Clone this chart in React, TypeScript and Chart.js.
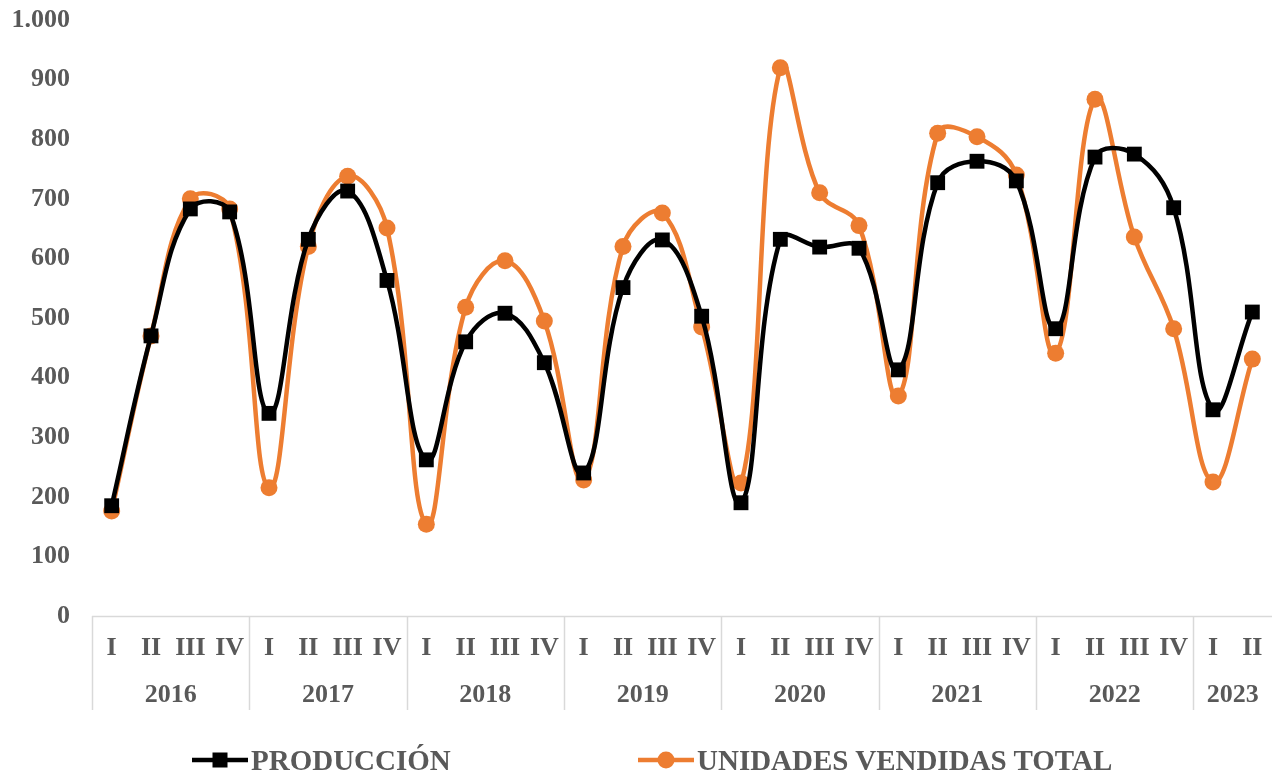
import React, { useEffect, useRef } from 'react';
import { Chart, registerables } from 'chart.js';

Chart.register(...registerables);

const quarterLabels = [
  'I', 'II', 'III', 'IV',
  'I', 'II', 'III', 'IV',
  'I', 'II', 'III', 'IV',
  'I', 'II', 'III', 'IV',
  'I', 'II', 'III', 'IV',
  'I', 'II', 'III', 'IV',
  'I', 'II', 'III', 'IV',
  'I', 'II',
];
const yearLabels = ['2016', '2017', '2018', '2019', '2020', '2021', '2022', '2023'];
const quartersPerYear = [4, 4, 4, 4, 4, 4, 4, 2];

const produccion = [
  185, 470, 683, 678,
  340, 632, 713, 563,
  262, 460, 508, 425,
  240, 551, 631, 503,
  190, 632, 619, 617,
  413, 727, 763, 730,
  482, 770, 775, 685,
  346, 510,
];
const unidadesVendidasTotal = [
  176, 470, 700, 683,
  215, 620, 738, 651,
  154, 518, 596, 495,
  228, 620, 676, 485,
  223, 920, 710, 655,
  369, 810, 804, 740,
  441, 867, 636, 482,
  225, 431,
];
const yTickLabels = ['0', '100', '200', '300', '400', '500', '600', '700', '800', '900', '1.000'];
const seriesNames = ['PRODUCCIÓN', 'UNIDADES VENDIDAS TOTAL'];

const BLACK = '#000000';
const ORANGE = '#ED7D31';
const TEXT = '#595959';
const AXIS = '#d9d9d9';
const FONT = '"Liberation Serif", "Times New Roman", serif';

const yearAxisPlugin = {
  id: 'yearAxis',
  afterDraw(chart: any) {
    const { ctx, chartArea, scales } = chart;
    const xs = scales.x;
    const bottom = chartArea.bottom;
    ctx.save();
    ctx.strokeStyle = AXIS;
    ctx.lineWidth = 1.5;
    ctx.beginPath();
    ctx.moveTo(xs.getPixelForValue(-0.5), bottom + 0.5);
    ctx.lineTo(chart.width, bottom + 0.5);
    ctx.stroke();
    ctx.font = `bold 26px ${FONT}`;
    ctx.fillStyle = TEXT;
    ctx.textAlign = 'center';
    ctx.textBaseline = 'middle';
    let start = 0;
    quartersPerYear.forEach((n, i) => {
      const x0 = xs.getPixelForValue(start - 0.5);
      const x1 = xs.getPixelForValue(start + n - 0.5);
      ctx.beginPath();
      ctx.moveTo(Math.round(x0) + 0.5, bottom);
      ctx.lineTo(Math.round(x0) + 0.5, bottom + 94);
      ctx.stroke();
      ctx.fillText(yearLabels[i], (x0 + x1) / 2, bottom + 79);
      start += n;
    });
    ctx.restore();
  },
};

function LegendItem({ name, color, marker, left, textLeft }: any) {
  return (
    <>
      <svg
        width={56}
        height={24}
        style={{ position: 'absolute', left, top: 748 }}
      >
        <line x1={0} y1={12} x2={56} y2={12} stroke={color} strokeWidth={4.5} strokeLinecap="round" />
        {marker === 'rect' ? (
          <rect x={20.5} y={4.5} width={15} height={15} fill={color} />
        ) : (
          <circle cx={28} cy={12} r={8.5} fill={color} />
        )}
      </svg>
      <div
        style={{
          position: 'absolute',
          left: textLeft,
          top: 744,
          font: `bold 29px ${FONT}`,
          lineHeight: '32px',
          color: TEXT,
          whiteSpace: 'nowrap',
        }}
      >
        {name}
      </div>
    </>
  );
}

export default function App() {
  const canvasRef = useRef<HTMLCanvasElement | null>(null);

  useEffect(() => {
    const canvas = canvasRef.current;
    if (!canvas) return;
    const chart = new Chart(canvas, {
      type: 'line',
      data: {
        labels: quarterLabels,
        datasets: [
          {
            label: seriesNames[0],
            data: produccion,
            borderColor: BLACK,
            backgroundColor: BLACK,
            borderWidth: 4.5,
            tension: 0.4,
            pointStyle: 'rect',
            pointRadius: 10.5,
            pointBorderWidth: 0,
            pointBackgroundColor: BLACK,
            fill: false,
            clip: false,
          },
          {
            label: seriesNames[1],
            data: unidadesVendidasTotal,
            borderColor: ORANGE,
            backgroundColor: ORANGE,
            borderWidth: 4.5,
            tension: 0.4,
            pointStyle: 'circle',
            pointRadius: 8.5,
            pointBorderWidth: 0,
            pointBackgroundColor: ORANGE,
            fill: false,
            clip: false,
          },
        ],
      },
      options: {
        responsive: false,
        animation: false,
        devicePixelRatio: 1,
        layout: { autoPadding: false, padding: { top: 20, left: 0, right: -4, bottom: 56 } },
        plugins: {
          legend: { display: false },
          tooltip: { enabled: false },
        },
        scales: {
          x: {
            type: 'category',
            offset: true,
            grid: { display: false, drawTicks: false },
            border: { display: false },
            ticks: {
              autoSkip: false,
              maxRotation: 0,
              minRotation: 0,
              padding: 17,
              color: TEXT,
              font: { family: FONT, size: 26, weight: 'bold' },
            },
            afterFit(scale: any) {
              scale.height = 100;
              scale.paddingLeft = 0;
              scale.paddingRight = 0;
            },
          },
          y: {
            min: 0,
            max: 1000,
            grid: { display: false, drawTicks: false },
            border: { display: false },
            ticks: {
              stepSize: 100,
              padding: 22,
              color: TEXT,
              font: { family: FONT, size: 26, weight: 'bold' },
              callback: (_v: any, i: number) => yTickLabels[i],
            },
            afterFit(scale: any) {
              scale.width = 92;
              scale.paddingTop = 0;
              scale.paddingBottom = 0;
            },
          },
        },
      },
      plugins: [yearAxisPlugin],
    });
    return () => chart.destroy();
  }, []);

  return (
    <div style={{ position: 'absolute', left: 0, top: 0, width: 1272, height: 772, background: '#fff' }}>
      <canvas ref={canvasRef} width={1272} height={772} style={{ display: 'block' }} />
      <LegendItem name={seriesNames[0]} color={BLACK} marker="rect" left={192} textLeft={251} />
      <LegendItem name={seriesNames[1]} color={ORANGE} marker="circle" left={638} textLeft={697} />
    </div>
  );
}
